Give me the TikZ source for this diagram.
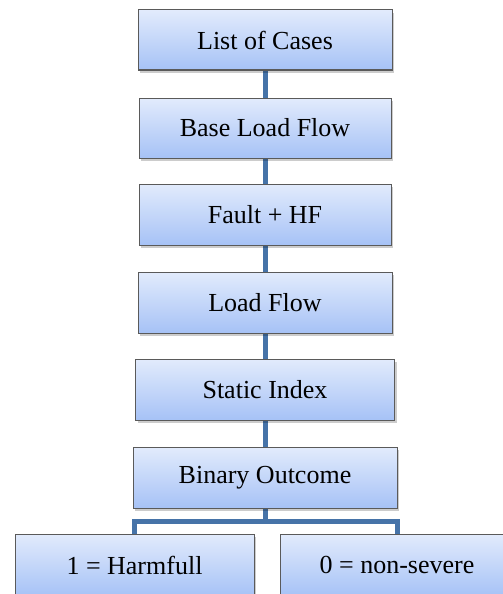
\documentclass[tikz,border=0pt]{standalone}
\usepackage{fontspec}
\setmainfont{Liberation Serif}
\usetikzlibrary{shadows,backgrounds}
\definecolor{boxtop}{HTML}{E2EBFC}
\definecolor{boxbot}{HTML}{A6C2F6}
\definecolor{boxline}{HTML}{5A5A5A}
\definecolor{conn}{HTML}{4673A8}
\tikzset{
  stepbox/.style={draw=boxline, line width=1pt, rectangle, inner sep=0pt,
    top color=boxtop, bottom color=boxbot,
    drop shadow={shadow xshift=2pt, shadow yshift=-3pt, opacity=0.2, fill=black},
    font=\fontsize{26}{30}\selectfont},
  link/.style={draw=conn, line width=5pt}
}
\begin{document}
\begin{tikzpicture}[x=1pt,y=-1pt]
\useasboundingbox (0,0) rectangle (503,594);
\begin{scope}
\clip (0,0) rectangle (503,594);
\node[stepbox, minimum width=254pt, minimum height=60pt] (a) at (265,40) {List of Cases};
\node[stepbox, minimum width=252pt, minimum height=60pt] (b) at (265,128) {Base Load Flow};
\node[stepbox, minimum width=252pt, minimum height=61pt] (c) at (265,214.5) {Fault + HF};
\node[stepbox, minimum width=254pt, minimum height=61pt] (d) at (265,302.5) {Load Flow};
\node[stepbox, minimum width=259pt, minimum height=61pt] (e) at (265,389.5) {Static Index};
\node[stepbox, minimum width=264pt, minimum height=61pt] (f) at (265,477.5) {Binary Outcome};
\node[stepbox, minimum width=239pt, minimum height=62pt] (g) at (134.5,565) {1 = Harmfull};
\node[stepbox, minimum width=234pt, minimum height=62pt] (h) at (397,565) {0 = non-severe};
\end{scope}
\coordinate (bar) at (0,521.5);
\begin{scope}[on background layer]
\draw[link] (a.south) -- (b.north);
\draw[link] (b.south) -- (c.north);
\draw[link] (c.south) -- (d.north);
\draw[link] (d.south) -- (e.north);
\draw[link] (e.south) -- (f.north);
\draw[link] (f.south) -- (f.south |- bar) -| (g.north);
\draw[link] (f.south |- bar) -| (h.north);
\end{scope}
\end{tikzpicture}
\end{document}
